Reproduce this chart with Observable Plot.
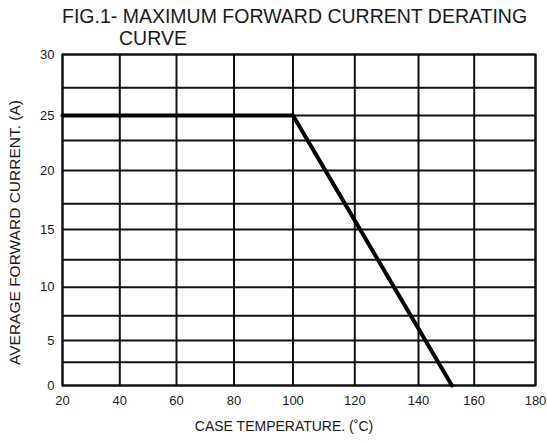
<!DOCTYPE html>
<html><head><meta charset="utf-8">
<script src="https://cdn.jsdelivr.net/npm/d3@7"></script>
<script src="https://cdn.jsdelivr.net/npm/@observablehq/plot@0.6"></script>
<style>
body{margin:0;background:#fff;}
#wrap{position:relative;width:547px;height:443px;font-family:"Liberation Sans",Arial,sans-serif;color:#1a1a1a;}
#wrap svg{position:absolute;left:0;top:0;}
.t{position:absolute;font-size:19.5px;line-height:1;white-space:nowrap;z-index:2;}
</style></head><body>
<div id="wrap">
<div class="t" style="left:62px;top:7px">FIG.1- MAXIMUM FORWARD CURRENT DERATING</div>
<div class="t" style="left:119px;top:29px">CURVE</div>
</div>
<script>
// data
const caseTemperature = [20, 100, 152];
const forwardCurrent = [25, 25, 0];
const xTicks = [20, 40, 60, 80, 100, 120, 140, 160, 180];
const yTicks = [0, 5, 10, 15, 20, 25, 30];
const yGrid = [0, 2.5, 5, 7.5, 10, 12.5, 15, 17.5, 20, 22.5, 25, 27.5, 30];

// the printed grid is slightly irregular: pixel position of each grid line (piecewise scale)
const xGridPx = [62, 119.3, 176, 233.5, 292.5, 354.3, 418, 473.7, 535];
const yGridPx = [385, 361.7, 340, 315.3, 286.7, 259.3, 229, 203.3, 170, 140, 115, 87.3, 54];

const curve = caseTemperature.map((t, i) => ({t, a: forwardCurrent[i]}));
const font = '"Liberation Sans", Arial, sans-serif';

const chart = Plot.plot({
  width: 547, height: 443,
  marginTop: 54, marginLeft: 62, marginRight: 12, marginBottom: 58,
  style: {fontFamily: font, fontSize: "13px", color: "#1a1a1a", background: "transparent"},
  x: {type: "linear", domain: xTicks, range: xGridPx},
  y: {type: "linear", domain: yGrid, range: yGridPx},
  marks: [
    Plot.gridX(xTicks, {stroke: "#111", strokeOpacity: 1, strokeWidth: 2}),
    Plot.gridY(yGrid, {stroke: "#111", strokeOpacity: 1, strokeWidth: 2}),
    Plot.frame({stroke: "#111", strokeWidth: 2}),
    Plot.line(curve, {x: "t", y: "a", stroke: "#000", strokeWidth: 4}),
    Plot.axisX(xTicks, {tickSize: 0, tickPadding: 10, fontSize: 13, label: null}),
    Plot.axisY(yTicks, {tickSize: 0, tickPadding: 8, fontSize: 13, label: null}),
    Plot.text(["CASE TEMPERATURE. (˚C)"], {frameAnchor: "bottom", textAnchor: "middle", dx: -15, dy: 45, fontSize: 14, text: d => d}),
    Plot.text(["AVERAGE FORWARD CURRENT. (A)"], {frameAnchor: "left", textAnchor: "middle", lineAnchor: "middle", dx: -47, dy: 12.5, rotate: -90, fontSize: 15.5, text: d => d})
  ]
});
document.getElementById("wrap").appendChild(chart);
</script>
</body></html>
